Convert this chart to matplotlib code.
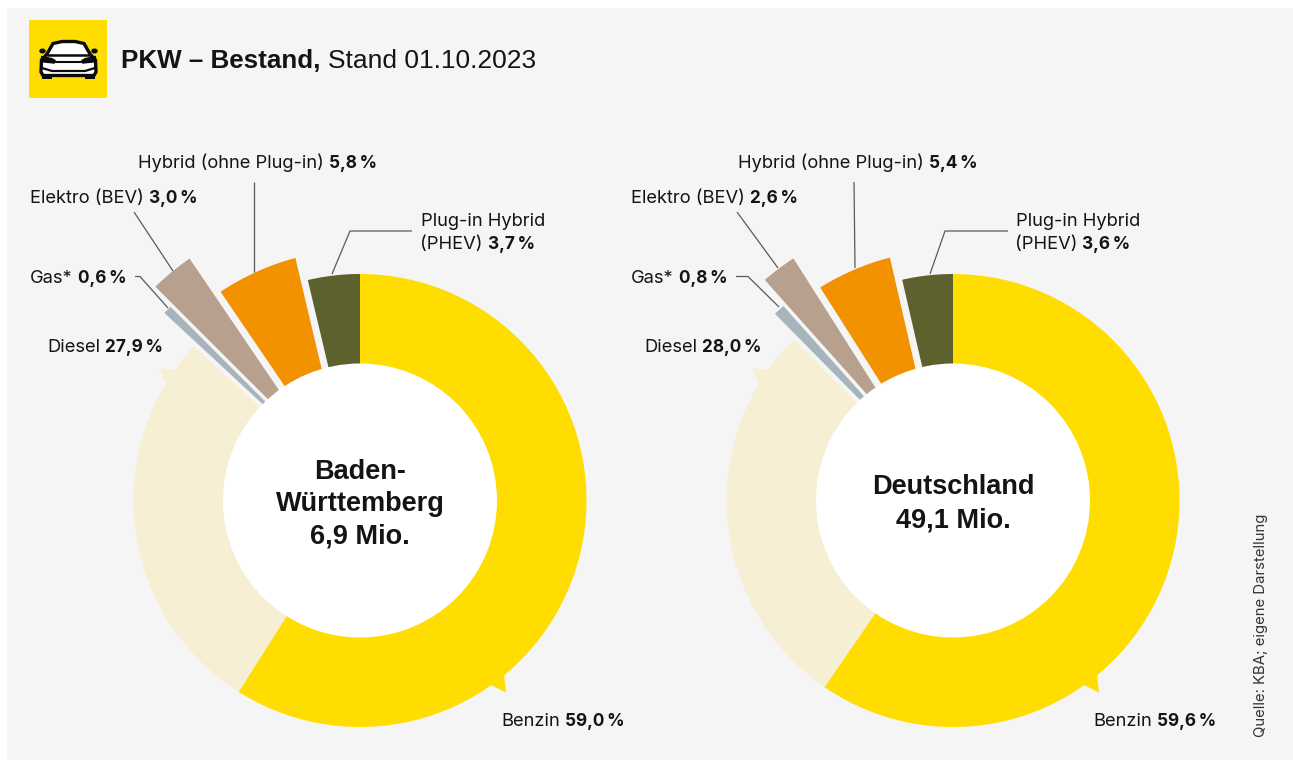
#!/usr/bin/env python3
"""PKW-Bestand: two exploded donut charts (Baden-Wuerttemberg, Deutschland)."""

import numpy as np
import matplotlib
matplotlib.use("Agg")
import matplotlib.pyplot as plt
from matplotlib.patches import Circle, Ellipse, Polygon, Rectangle

# Data, clockwise from the top
categories = ["Benzin", "Diesel", "Gas*", "Elektro (BEV)", "Hybrid (ohne Plug-in)", "Plug-in Hybrid"]
bw_values = [59.0, 27.9, 0.6, 3.0, 5.8, 3.7]
de_values = [59.6, 28.0, 0.8, 2.6, 5.4, 3.6]
bw_title = ["Baden-", "Württemberg", "6,9 Mio."]
de_title = ["Deutschland", "49,1 Mio."]

colors = ["#FFDD00", "#F6EFD3", "#A7B4BC", "#B8A08F", "#F39200", "#5C612D"]
TEXT = "#141414"
LEADER = "#5A5A5A"
PANEL = "#F5F5F5"
FONT = "Liberation Sans"
LABEL_FONT = "Inter"
LABEL_SIZE = 13.2
BOLD_SIZE = 12.4

# Ring geometry, in pixels
R_INNER = 137
R_OUTER = 226.5
bw_outer = [R_OUTER, R_OUTER, 271, 296, 251, R_OUTER]
de_outer = [R_OUTER, R_OUTER, 258, 290, 251, R_OUTER]
# gap cut from the start / end side of each slice
gap_start = [0, 0, 4.5, 6.5, 2, 0]
gap_end = [0, 0, -3, 5, 7, 0]


def pct(value):
	return f"{value:.1f}".replace(".", ",") + "\u2009%"


def draw_slice(ax, cx, cy, r_in, r_out, a0, a1, off0, off1, color):
	"""Ring segment with straight gaps parallel to the slice edges."""
	pts = []
	for r in (r_out, r_in):
		t0 = a0 + np.arcsin(off0 / r)
		t1 = a1 - np.arcsin(off1 / r)
		t = np.linspace(t0, t1, 160)
		if r == r_in:
			t = t[::-1]
		pts.append(np.column_stack([cx + r * np.sin(t), cy - r * np.cos(t)]))
	ax.add_patch(Polygon(np.vstack(pts), closed=True, facecolor=color, edgecolor="none"))


def draw_donut(ax, cx, cy, values, outer, title_lines, title_ys):
	bounds = np.radians(np.concatenate([[0], np.cumsum(values)]) * 3.6)
	for i in range(len(values)):
		draw_slice(ax, cx, cy, R_INNER - 2, outer[i], bounds[i], bounds[i + 1],
				   gap_start[i], gap_end[i], colors[i])

	# little callout spikes on Benzin and Diesel
	ax.add_patch(Polygon([[cx + 128, cy + 183], [cx + 146, cy + 192], [cx + 144, cy + 173]],
						 facecolor=colors[0], edgecolor="none"))
	ax.add_patch(Polygon([[cx - 185, cy - 131], [cx - 201, cy - 132], [cx - 194, cy - 117]],
						 facecolor=colors[1], edgecolor="none"))

	ax.add_patch(Circle((cx, cy), R_INNER, facecolor="white", edgecolor="none", zorder=3))
	for line, y in zip(title_lines, title_ys):
		ax.text(cx, y, line, ha="center", va="center", fontsize=19.5, fontweight="bold",
				family=FONT, color=TEXT, zorder=4)


def two_part(ax, x, y, regular, bold):
	"""Regular text directly followed by bold text on one baseline."""
	t = ax.text(x, y, regular, ha="left", va="baseline", fontsize=LABEL_SIZE, family=LABEL_FONT, color=TEXT)
	renderer = ax.figure.canvas.get_renderer()
	width = t.get_window_extent(renderer).width
	ax.text(x + width + 5, y, bold, ha="left", va="baseline", fontsize=BOLD_SIZE,
			fontweight="bold", family=LABEL_FONT, color=TEXT)


def leader(ax, xs, ys):
	ax.plot(xs, ys, color=LEADER, lw=0.9, solid_capstyle="butt", solid_joinstyle="miter")


def draw_labels(ax, values, pos):
	names = categories
	two_part(ax, pos[4], 168, names[4], pct(values[4]))
	two_part(ax, pos[3], 203, names[3], pct(values[3]))
	two_part(ax, pos[2], 283, names[2], pct(values[2]))
	two_part(ax, pos[1], 352, names[1], pct(values[1]))
	two_part(ax, pos[0], 726, names[0], pct(values[0]))
	ax.text(pos[5], 226, names[5], ha="left", va="baseline", fontsize=LABEL_SIZE,
			family=LABEL_FONT, color=TEXT)
	two_part(ax, pos[5] - 1, 249, "(PHEV)", pct(values[5]))


def draw_car(ax):
	"""Small car icon on the yellow square."""
	ax.add_patch(Rectangle((28.5, 20), 78, 78, facecolor=colors[0], edgecolor="none"))
	black = "#0A0A0A"
	body = [[53, 43.5], [62, 41.5], [75, 41.5], [84, 43.5], [90, 54], [95.5, 60], [96, 72], [94, 75.5],
			[43, 75.5], [41, 72], [41.5, 60], [47, 54]]
	ax.add_patch(Polygon(body, closed=True, facecolor="white", edgecolor=black, lw=2.4))
	ax.add_patch(Rectangle((42, 74), 10, 4.5, facecolor=black, edgecolor="none"))
	ax.add_patch(Rectangle((85, 74), 10, 4.5, facecolor=black, edgecolor="none"))
	ax.add_patch(Ellipse((42.5, 51), 6.5, 5, facecolor=black, edgecolor="none"))
	ax.add_patch(Ellipse((94.5, 51), 6.5, 5, facecolor=black, edgecolor="none"))
	ax.plot([48, 89], [54.5, 54.5], color=black, lw=1.8)
	ax.plot([42, 52, 56, 81, 85, 95], [57, 59, 62, 62, 59, 57], color=black, lw=1.5)
	ax.plot([43, 53], [60.5, 61.5], color=black, lw=3)
	ax.plot([84, 94], [61.5, 60.5], color=black, lw=3)
	ax.plot([42, 52, 85, 95], [68, 71, 71, 68], color=black, lw=1.6)


def main():
	fig = plt.figure(figsize=(12.93, 7.6), dpi=100, facecolor="white")
	ax = fig.add_axes([0, 0, 1, 1])
	ax.set_xlim(0, 1293)
	ax.set_ylim(760, 0)
	ax.axis("off")

	ax.add_patch(Rectangle((7, 8), 1286, 752, facecolor=PANEL, edgecolor="none"))
	draw_car(ax)

	# Title
	ax.text(121, 68, "PKW – Bestand,", fontsize=18.7, fontweight="bold", family=FONT,
			color=TEXT, va="baseline")
	ax.text(328, 68, "Stand 01.10.2023", fontsize=19, family=FONT, color=TEXT, va="baseline")

	draw_donut(ax, 360, 500.5, bw_values, bw_outer, bw_title, [472, 504, 536])
	draw_donut(ax, 953, 500.5, de_values, de_outer, de_title, [487, 520])

	draw_labels(ax, bw_values, [501, 47, 30, 30, 138, 421])
	draw_labels(ax, de_values, [1093, 644, 631, 631, 738, 1016])

	# Leader lines, Baden-Wuerttemberg
	leader(ax, [134, 173], [212, 271])
	leader(ax, [254, 254], [182, 272])
	leader(ax, [412, 350, 332], [231, 231, 274])
	leader(ax, [135, 140, 168], [276.5, 276.5, 308])
	# Leader lines, Deutschland
	leader(ax, [737, 778], [212, 268])
	leader(ax, [854, 855], [182, 268])
	leader(ax, [1008, 945, 930], [231, 231, 274])
	leader(ax, [736, 748, 779], [276.5, 276.5, 307])

	ax.text(1261.5, 737, "Quelle: KBA; eigene Darstellung", rotation=90, ha="center", va="bottom",
			fontsize=10.75, family=LABEL_FONT, color="#333333")

	fig.savefig("out.png", dpi=100, facecolor="white")
	plt.close(fig)


if __name__ == "__main__":
	main()
